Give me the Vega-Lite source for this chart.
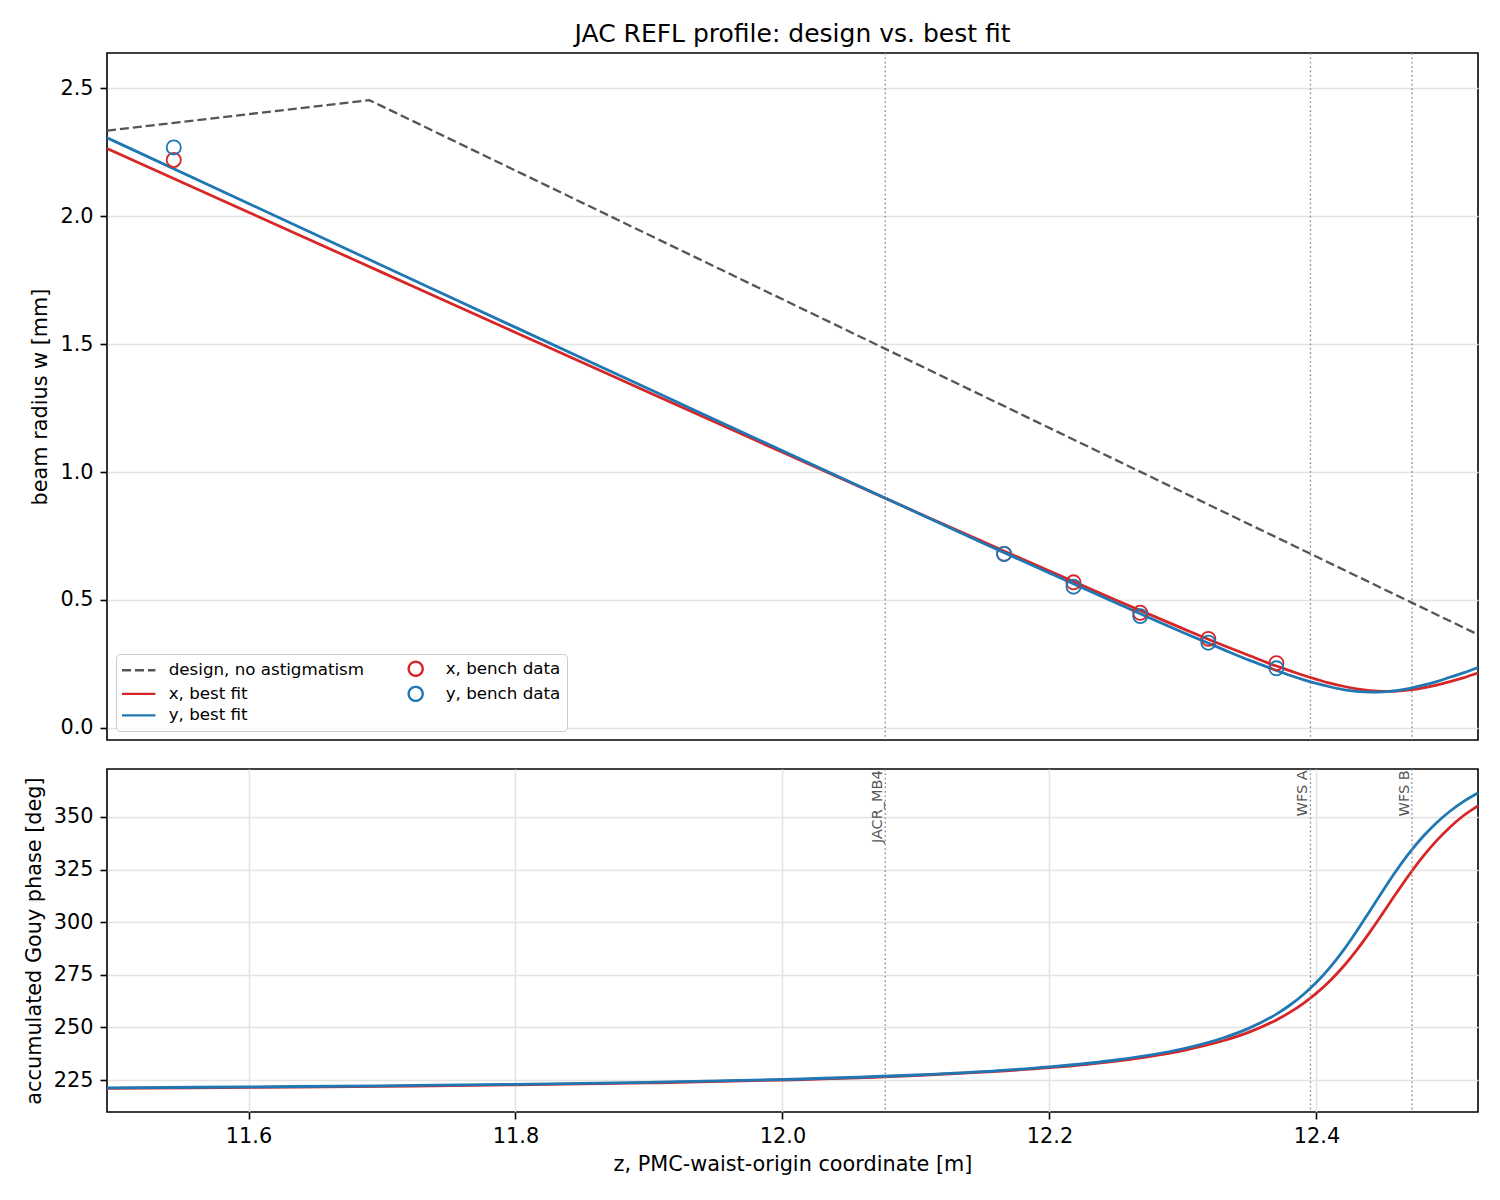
{
  "$schema": "https://vega.github.io/schema/vega-lite/v6.json",
  "background": "white",
  "padding": {"left": 22, "top": 21, "right": 23, "bottom": 10},
  "spacing": 25,
  "config": {
    "font": "DejaVu Sans",
    "view": {"stroke": "black", "strokeWidth": 1.6},
    "axis": {
      "labelFont": "DejaVu Sans", "labelFontSize": 20.8, "labelColor": "black",
      "titleFont": "DejaVu Sans", "titleFontSize": 20.8, "titleFontWeight": "normal", "titleColor": "black",
      "tickColor": "black", "tickSize": 7, "tickWidth": 1.6, "labelPadding": 7, "titlePadding": 9,
      "domain": false, "grid": true, "gridColor": "#e3e3e3", "gridWidth": 1.5
    }
  },
  "datasets": {
    "design": [
      {"series": "design, no astigmatism", "z": 11.494, "w": 2.334},
      {"series": "design, no astigmatism", "z": 11.6905, "w": 2.453},
      {"series": "design, no astigmatism", "z": 12.521, "w": 0.365}
    ],
    "fits": [
      {"series": "x, best fit", "z": 11.494, "w": 2.264, "phase": 221.00},
      {"series": "x, best fit", "z": 11.6, "w": 2.015, "phase": 221.46},
      {"series": "x, best fit", "z": 11.7, "w": 1.780, "phase": 221.99},
      {"series": "x, best fit", "z": 11.8, "w": 1.545, "phase": 222.69},
      {"series": "x, best fit", "z": 11.9, "w": 1.311, "phase": 223.64},
      {"series": "x, best fit", "z": 12.0, "w": 1.077, "phase": 225.01},
      {"series": "x, best fit", "z": 12.1, "w": 0.844, "phase": 227.14},
      {"series": "x, best fit", "z": 12.15, "w": 0.728, "phase": 228.71},
      {"series": "x, best fit", "z": 12.2, "w": 0.613, "phase": 230.87},
      {"series": "x, best fit", "z": 12.25, "w": 0.499, "phase": 234.03},
      {"series": "x, best fit", "z": 12.3, "w": 0.388, "phase": 239.02},
      {"series": "x, best fit", "z": 12.33, "w": 0.323, "phase": 243.65},
      {"series": "x, best fit", "z": 12.35, "w": 0.282, "phase": 247.89},
      {"series": "x, best fit", "z": 12.37, "w": 0.242, "phase": 253.57},
      {"series": "x, best fit", "z": 12.38, "w": 0.224, "phase": 257.12},
      {"series": "x, best fit", "z": 12.39, "w": 0.206, "phase": 261.31},
      {"series": "x, best fit", "z": 12.40, "w": 0.190, "phase": 266.26},
      {"series": "x, best fit", "z": 12.41, "w": 0.175, "phase": 272.07},
      {"series": "x, best fit", "z": 12.42, "w": 0.163, "phase": 278.84},
      {"series": "x, best fit", "z": 12.43, "w": 0.153, "phase": 286.63},
      {"series": "x, best fit", "z": 12.44, "w": 0.146, "phase": 295.29},
      {"series": "x, best fit", "z": 12.45, "w": 0.143, "phase": 304.55},
      {"series": "x, best fit", "z": 12.46, "w": 0.144, "phase": 313.96},
      {"series": "x, best fit", "z": 12.47, "w": 0.1485, "phase": 323.03},
      {"series": "x, best fit", "z": 12.48, "w": 0.1565, "phase": 331.36},
      {"series": "x, best fit", "z": 12.49, "w": 0.1675, "phase": 338.75},
      {"series": "x, best fit", "z": 12.50, "w": 0.181, "phase": 345.13},
      {"series": "x, best fit", "z": 12.51, "w": 0.196, "phase": 350.58},
      {"series": "x, best fit", "z": 12.521, "w": 0.2147, "phase": 355.3},
      {"series": "y, best fit", "z": 11.494, "w": 2.306, "phase": 221.30},
      {"series": "y, best fit", "z": 11.6, "w": 2.049, "phase": 221.74},
      {"series": "y, best fit", "z": 11.7, "w": 1.807, "phase": 222.26},
      {"series": "y, best fit", "z": 11.8, "w": 1.565, "phase": 222.95},
      {"series": "y, best fit", "z": 11.9, "w": 1.324, "phase": 223.89},
      {"series": "y, best fit", "z": 12.0, "w": 1.083, "phase": 225.25},
      {"series": "y, best fit", "z": 12.1, "w": 0.843, "phase": 227.38},
      {"series": "y, best fit", "z": 12.15, "w": 0.723, "phase": 228.98},
      {"series": "y, best fit", "z": 12.2, "w": 0.605, "phase": 231.21},
      {"series": "y, best fit", "z": 12.25, "w": 0.488, "phase": 234.51},
      {"series": "y, best fit", "z": 12.3, "w": 0.373, "phase": 239.86},
      {"series": "y, best fit", "z": 12.33, "w": 0.307, "phase": 244.97},
      {"series": "y, best fit", "z": 12.35, "w": 0.264, "phase": 249.78},
      {"series": "y, best fit", "z": 12.37, "w": 0.225, "phase": 256.33},
      {"series": "y, best fit", "z": 12.38, "w": 0.206, "phase": 260.53},
      {"series": "y, best fit", "z": 12.39, "w": 0.189, "phase": 265.52},
      {"series": "y, best fit", "z": 12.40, "w": 0.174, "phase": 271.45},
      {"series": "y, best fit", "z": 12.41, "w": 0.161, "phase": 278.43},
      {"series": "y, best fit", "z": 12.42, "w": 0.150, "phase": 286.52},
      {"series": "y, best fit", "z": 12.43, "w": 0.143, "phase": 295.60},
      {"series": "y, best fit", "z": 12.44, "w": 0.140, "phase": 305.34},
      {"series": "y, best fit", "z": 12.45, "w": 0.141, "phase": 315.23},
      {"series": "y, best fit", "z": 12.46, "w": 0.146, "phase": 324.69},
      {"series": "y, best fit", "z": 12.47, "w": 0.155, "phase": 333.30},
      {"series": "y, best fit", "z": 12.48, "w": 0.167, "phase": 340.84},
      {"series": "y, best fit", "z": 12.49, "w": 0.181, "phase": 347.28},
      {"series": "y, best fit", "z": 12.50, "w": 0.198, "phase": 352.72},
      {"series": "y, best fit", "z": 12.51, "w": 0.215, "phase": 357.30},
      {"series": "y, best fit", "z": 12.521, "w": 0.236, "phase": 361.4}
    ],
    "bench": [
      {"series": "x, bench data", "z": 11.544, "w": 2.219},
      {"series": "x, bench data", "z": 12.166, "w": 0.680},
      {"series": "x, bench data", "z": 12.218, "w": 0.569},
      {"series": "x, bench data", "z": 12.268, "w": 0.450},
      {"series": "x, bench data", "z": 12.319, "w": 0.348},
      {"series": "x, bench data", "z": 12.370, "w": 0.253},
      {"series": "y, bench data", "z": 11.544, "w": 2.268},
      {"series": "y, bench data", "z": 12.166, "w": 0.680},
      {"series": "y, bench data", "z": 12.218, "w": 0.552},
      {"series": "y, bench data", "z": 12.268, "w": 0.437},
      {"series": "y, bench data", "z": 12.319, "w": 0.333},
      {"series": "y, bench data", "z": 12.370, "w": 0.233}
    ],
    "markers": [
      {"name": "JACR_MB4", "z": 12.077},
      {"name": "WFS A", "z": 12.3955},
      {"name": "WFS B", "z": 12.4715}
    ]
  },
  "resolve": {"scale": {"color": "independent"}, "legend": {"color": "independent"}},
  "vconcat": [
    {
      "title": {"text": "JAC REFL profile: design vs. best fit", "fontSize": 25, "fontWeight": "normal", "color": "black", "frame": "group", "anchor": "middle", "offset": 5},
      "width": 1371,
      "height": 687,
      "layer": [
        {
          "data": {"name": "markers"},
          "mark": {"type": "rule", "color": "#8c8c8c", "strokeWidth": 1.3, "strokeDash": [1.7, 2.7]},
          "encoding": {
            "x": {"field": "z", "type": "quantitative", "scale": {"domain": [11.494, 12.521], "nice": false, "zero": false}, "axis": null}
          }
        },
        {
          "data": {"name": "design"},
          "mark": {"type": "line", "strokeWidth": 2.3, "strokeDash": [9, 4]},
          "encoding": {
            "x": {"field": "z", "type": "quantitative", "scale": {"domain": [11.494, 12.521], "nice": false, "zero": false},
                  "axis": {"values": [11.6, 11.8, 12.0, 12.2, 12.4], "labels": false, "title": null}},
            "y": {"field": "w", "type": "quantitative", "scale": {"domain": [-0.047, 2.637], "nice": false, "zero": false},
                  "axis": {"title": "beam radius w [mm]", "values": [0, 0.5, 1, 1.5, 2, 2.5], "format": ".1f"}},
            "color": {
              "field": "series", "type": "nominal",
              "scale": {
                "domain": ["design, no astigmatism", "x, best fit", "y, best fit", "x, bench data", "y, bench data"],
                "range": ["#555555", "#d62728", "#1f77b4", "#d62728", "#1f77b4"]
              },
              "legend": {
                "orient": "bottom-left", "offset": 9, "columns": 2, "title": null,
                "labelFont": "DejaVu Sans", "labelFontSize": 16.7, "labelColor": "black", "labelOffset": 30, "labelLimit": 400,
                "columnPadding": 34, "rowPadding": 0.5, "padding": 6,
                "fillColor": "rgba(255,255,255,0.8)", "strokeColor": "#cccccc", "cornerRadius": 4,
                "symbolSize": 130, "symbolStrokeWidth": 2.4,
                "encode": {
                  "symbols": {
                    "update": {
                      "shape": {"signal": "indexof(datum.value, 'bench') >= 0 ? 'M 2.693,0 A 1.228,1.228 0 1,1 0.237,0 A 1.228,1.228 0 1,1 2.693,0 Z' : 'M -1.465,0 L 4.395,0'"},
                      "strokeDash": {"signal": "datum.value === 'design, no astigmatism' ? [9, 4] : [1, 0]"},
                      "fill": {"value": "transparent"},
                      "opacity": {"value": 1}
                    }
                  }
                }
              }
            }
          }
        },
        {
          "data": {"name": "fits"},
          "mark": {"type": "line", "strokeWidth": 2.8, "interpolate": "monotone"},
          "encoding": {
            "x": {"field": "z", "type": "quantitative", "scale": {"domain": [11.494, 12.521], "nice": false, "zero": false}},
            "y": {"field": "w", "type": "quantitative", "scale": {"domain": [-0.047, 2.637], "nice": false, "zero": false}},
            "color": {"field": "series", "type": "nominal"}
          }
        },
        {
          "data": {"name": "bench"},
          "mark": {"type": "point", "shape": "circle", "filled": false, "size": 200, "strokeWidth": 1.8, "opacity": 1},
          "encoding": {
            "x": {"field": "z", "type": "quantitative", "scale": {"domain": [11.494, 12.521], "nice": false, "zero": false}},
            "y": {"field": "w", "type": "quantitative", "scale": {"domain": [-0.047, 2.637], "nice": false, "zero": false}},
            "color": {"field": "series", "type": "nominal"}
          }
        }
      ]
    },
    {
      "width": 1371,
      "height": 343,
      "layer": [
        {
          "data": {"name": "fits"},
          "mark": {"type": "line", "strokeWidth": 2.8, "interpolate": "monotone"},
          "encoding": {
            "x": {"field": "z", "type": "quantitative", "scale": {"domain": [11.494, 12.521], "nice": false, "zero": false},
                  "axis": {"title": "z, PMC-waist-origin coordinate [m]", "values": [11.6, 11.8, 12.0, 12.2, 12.4], "format": ".1f"}},
            "y": {"field": "phase", "type": "quantitative", "scale": {"domain": [209.8, 372.8], "nice": false, "zero": false},
                  "axis": {"title": "accumulated Gouy phase [deg]", "values": [225, 250, 275, 300, 325, 350]}},
            "color": {
              "field": "series", "type": "nominal",
              "scale": {"domain": ["x, best fit", "y, best fit"], "range": ["#d62728", "#1f77b4"]},
              "legend": null
            }
          }
        },
        {
          "data": {"name": "markers"},
          "mark": {"type": "rule", "color": "#8c8c8c", "strokeWidth": 1.3, "strokeDash": [1.7, 2.7]},
          "encoding": {
            "x": {"field": "z", "type": "quantitative", "scale": {"domain": [11.494, 12.521], "nice": false, "zero": false}}
          }
        },
        {
          "data": {"name": "markers"},
          "mark": {"type": "text", "angle": 270, "align": "right", "baseline": "bottom", "fontSize": 14.5, "color": "#555555"},
          "encoding": {
            "x": {"field": "z", "type": "quantitative", "scale": {"domain": [11.494, 12.521], "nice": false, "zero": false}},
            "y": {"datum": 372.2, "type": "quantitative", "scale": {"domain": [209.8, 372.8], "nice": false, "zero": false}},
            "text": {"field": "name"}
          }
        }
      ]
    }
  ]
}
